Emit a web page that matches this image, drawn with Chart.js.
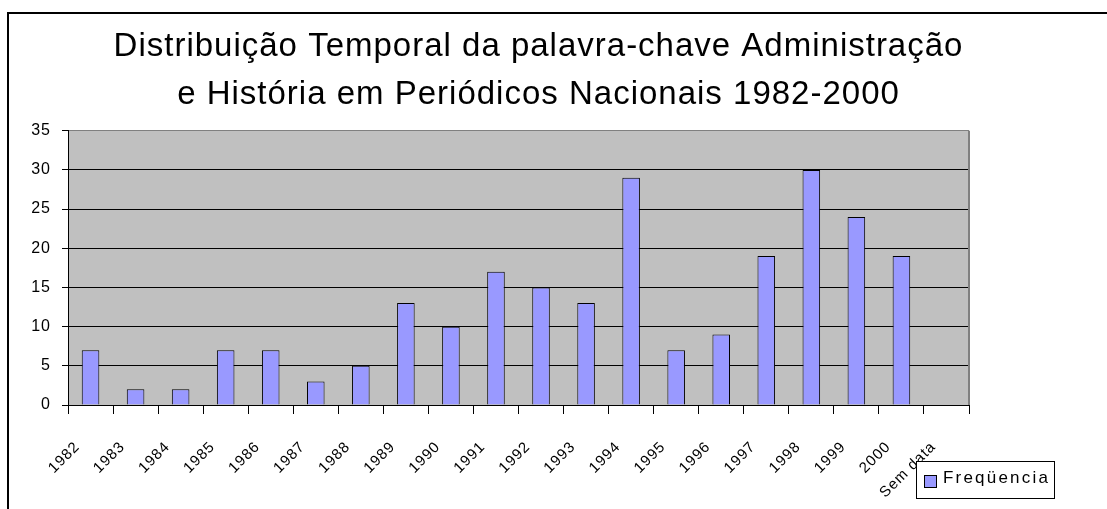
<!DOCTYPE html>
<html>
<head>
<meta charset="utf-8">
<script src="https://cdn.jsdelivr.net/npm/chart.js"></script>
<style>
  html, body { margin: 0; padding: 0; background: #fff; overflow: hidden; }
  #frame { position: absolute; left: 7px; top: 12px; width: 1200px; height: 600px;
           border-left: 2px solid #000; border-top: 2px solid #000; }
  #wrap { position: absolute; left: 0; top: 0; width: 1107px; height: 509px; }
</style>
</head>
<body>
<div id="frame"></div>
<div id="wrap"><canvas id="chart" width="1107" height="509"></canvas></div>
<script>
// data
const categories = ['1982', '1983', '1984', '1985', '1986', '1987', '1988', '1989', '1990', '1991',
  '1992', '1993', '1994', '1995', '1996', '1997', '1998', '1999', '2000', 'Sem data'];
const frequencia = [7, 2, 2, 7, 7, 3, 5, 13, 10, 17, 15, 13, 29, 7, 9, 19, 30, 24, 19, null];
const seriesLabel = 'Freqüencia';
const titleLines = ['Distribuição Temporal da palavra-chave Administração',
  'e História em Periódicos Nacionais 1982-2000'];
const yMin = 0, yMax = 35, yStep = 5;

const fontFamily = '"Liberation Sans", Arial, sans-serif';

// grey plot area + right border, letter spacing like the old excel render
const plotBackground = {
  id: 'plotBackground',
  beforeDraw(chart) {
    const { ctx, chartArea: a } = chart;
    ctx.save();
    ctx.fillStyle = '#c0c0c0';
    ctx.fillRect(a.left, a.top, a.right - a.left, a.bottom - a.top);
    ctx.restore();
    ctx.letterSpacing = '1px';
  },
  beforeDatasetsDraw(chart) {
    const { ctx, chartArea: a } = chart;
    ctx.save();
    ctx.strokeStyle = '#808080';
    ctx.lineWidth = 2;
    ctx.beginPath();
    ctx.moveTo(a.right, a.top);
    ctx.lineTo(a.right, a.bottom);
    ctx.stroke();
    ctx.restore();
  },
  afterDraw(chart) {
    chart.ctx.letterSpacing = '0px';
  }
};

// legend box sitting at the lower right, next to the last label
const boxLegend = {
  id: 'boxLegend',
  afterDraw(chart, args, opts) {
    const ds = chart.data.datasets[0];
    const ctx = chart.ctx;
    ctx.save();
    ctx.lineWidth = 1;
    ctx.strokeStyle = '#000';
    ctx.fillStyle = '#fff';
    ctx.fillRect(opts.x, opts.y, opts.w, opts.h);
    ctx.strokeRect(opts.x + 0.5, opts.y + 0.5, opts.w, opts.h);
    ctx.fillStyle = ds.backgroundColor;
    ctx.fillRect(opts.x + 8.5, opts.y + 14.5, 12, 12);
    ctx.strokeRect(opts.x + 8.5, opts.y + 14.5, 12, 12);
    ctx.letterSpacing = '2.2px';
    ctx.font = '17px ' + fontFamily;
    ctx.fillStyle = '#000';
    ctx.textBaseline = 'alphabetic';
    ctx.fillText(ds.label, opts.x + 27, opts.y + 22);
    ctx.restore();
  }
};

new Chart(document.getElementById('chart'), {
  type: 'bar',
  data: {
    labels: categories,
    datasets: [{
      label: seriesLabel,
      data: frequencia,
      backgroundColor: '#9999ff',
      borderColor: '#000',
      borderWidth: 1,
      barPercentage: 0.39,
      categoryPercentage: 1
    }]
  },
  options: {
    responsive: false,
    animation: false,
    devicePixelRatio: 1,
    layout: { padding: { left: 0, right: 30, top: 0, bottom: 0 } },
    plugins: {
      legend: { display: false },
      tooltip: { enabled: false },
      title: {
        display: true,
        text: titleLines,
        color: '#000',
        font: { family: fontFamily, size: 33, weight: 'normal', lineHeight: 1.45 },
        padding: { top: 23, bottom: 12 }
      },
      boxLegend: { x: 916, y: 461, w: 138, h: 37 }
    },
    scales: {
      x: {
        grid: { drawOnChartArea: false, color: '#000', tickLength: 9, offset: true },
        border: { color: '#000', width: 1 },
        ticks: {
          color: '#000',
          font: { family: fontFamily, size: 15 },
          maxRotation: 45,
          minRotation: 45,
          autoSkip: false,
          padding: 24,
          labelOffset: -13
        },
        afterFit: s => { s.height = 104; }
      },
      y: {
        min: yMin,
        max: yMax,
        ticks: { stepSize: yStep, color: '#000', font: { family: fontFamily, size: 16 }, padding: 11 },
        grid: {
          color: c => (c.tick && c.tick.value === yMax ? '#808080' : '#000'),
          tickColor: '#000',
          tickLength: 6
        },
        border: { color: '#000', width: 1 },
        afterFit: s => { s.width = 68; }
      },
      y2: {
        position: 'right',
        grid: { display: false },
        ticks: { display: false },
        border: { display: false },
        afterFit: s => { s.width = 108; }
      }
    }
  },
  plugins: [plotBackground, boxLegend]
});
</script>
</body>
</html>
